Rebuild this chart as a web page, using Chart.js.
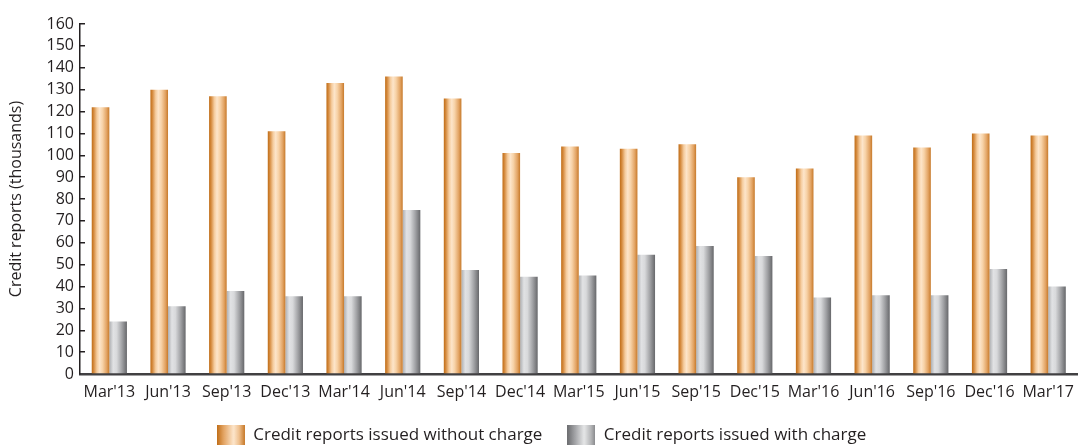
<!DOCTYPE html>
<html>
<head>
<meta charset="utf-8">
<script src="https://cdn.jsdelivr.net/npm/chart.js@4/dist/chart.umd.min.js"></script>
<style>
  html, body { margin: 0; padding: 0; background: #ffffff; }
  #wrap { width: 1083px; height: 445px; position: relative; }
</style>
</head>
<body>
<div id="wrap"><canvas id="c"></canvas></div>
<script>
const categories = ["Mar'13", "Jun'13", "Sep'13", "Dec'13", "Mar'14", "Jun'14", "Sep'14", "Dec'14", "Mar'15", "Jun'15", "Sep'15", "Dec'15", "Mar'16", "Jun'16", "Sep'16", "Dec'16", "Mar'17"];
const withoutCharge = [122, 130, 127, 111, 133, 136, 126, 101, 104, 103, 105, 90, 94, 109, 103.5, 110, 109];
const withCharge = [24, 31, 38, 35.5, 35.5, 75, 47.5, 44.5, 45, 54.5, 58.5, 54, 35, 36, 36, 48, 40];
const seriesNames = ["Credit reports issued without charge", "Credit reports issued with charge"];
const yTicks = { min: 0, max: 160, step: 10 };
const yTitle = "Credit reports (thousands)";

const FONT = "'Open Sans', 'Noto Sans', sans-serif";
const TEXT = "#231f20";
const CAT_PCT = 0.6;

const orangeStops = [[0, '#bf6c16'], [0.12, '#d68c40'], [0.3, '#f5cc9e'], [0.45, '#fde5ca'], [0.62, '#f7d2a7'], [0.85, '#e2a363'], [1, '#c77a2b']];
const grayStops = [[0, '#adafb2'], [0.22, '#e1e2e4'], [0.42, '#d8d9db'], [0.72, '#a0a1a4'], [1, '#67686b']];
const orangeLegendStops = [[0, '#bf6c16'], [0.25, '#e4a564'], [0.6, '#fde6cc'], [0.8, '#efc08e'], [1, '#c77a2b']];
const grayLegendStops = [[0, '#6c6d70'], [0.3, '#a8a9ac'], [0.6, '#e6e7e8'], [0.85, '#b3b4b6'], [1, '#86878a']];

function barFill(stops) {
  return function (ctx) {
    const chart = ctx.chart;
    const xs = chart.scales && chart.scales.x;
    if (!xs || !chart.chartArea || ctx.dataIndex === undefined) return stops[2][1];
    const center = xs.getPixelForValue(ctx.dataIndex);
    const catW = (xs.right - xs.left) / categories.length;
    const groupW = catW * CAT_PCT;
    const barW = groupW / 2;
    const left = center - groupW / 2 + ctx.datasetIndex * barW;
    const g = chart.ctx.createLinearGradient(left, 0, left + barW, 0);
    stops.forEach(s => g.addColorStop(s[0], s[1]));
    return g;
  };
}

function legendImage(stops) {
  const cv = document.createElement('canvas');
  cv.width = 28; cv.height = 21;
  const c = cv.getContext('2d');
  const g = c.createLinearGradient(0, 0, 28, 0);
  stops.forEach(s => g.addColorStop(s[0], s[1]));
  c.fillStyle = g;
  c.fillRect(0, 0, 28, 21);
  return cv;
}
const legendImgs = [legendImage(orangeLegendStops), legendImage(grayLegendStops)];

new Chart(document.getElementById('c'), {
  type: 'bar',
  data: {
    labels: categories,
    datasets: [
      { label: seriesNames[0], data: withoutCharge, backgroundColor: barFill(orangeStops), borderWidth: 0 },
      { label: seriesNames[1], data: withCharge, backgroundColor: barFill(grayStops), borderWidth: 0 }
    ]
  },
  options: {
    responsive: true,
    maintainAspectRatio: false,
    animation: false,
    events: [],
    layout: { padding: { top: 24, right: 0, left: 0, bottom: -9 } },
    datasets: { bar: { categoryPercentage: CAT_PCT, barPercentage: 1 } },
    plugins: {
      tooltip: { enabled: false },
      legend: {
        position: 'bottom',
        labels: {
          usePointStyle: true,
          pointStyleWidth: 28,
          padding: 25,
          color: TEXT,
          font: { family: FONT, size: 17 },
          generateLabels: (chart) => chart.data.datasets.map((ds, i) => ({
            text: ds.label,
            pointStyle: legendImgs[i],
            fillStyle: 'transparent',
            strokeStyle: 'transparent',
            lineWidth: 0,
            hidden: false,
            datasetIndex: i,
            fontColor: TEXT
          }))
        }
      }
    },
    scales: {
      x: {
        z: 1,
        offset: true,
        grid: { display: false, drawTicks: false },
        border: { display: true, color: '#414042', width: 2.5 },
        ticks: { color: TEXT, font: { family: FONT, size: 16 }, padding: 9, maxRotation: 0, autoSkip: false },
        afterFit: (s) => { s.height = 28; }
      },
      y: {
        min: yTicks.min,
        max: yTicks.max,
        grid: { display: true, drawOnChartArea: false, drawTicks: true, tickLength: -5, color: TEXT, lineWidth: 1.5 },
        border: { display: true, color: TEXT, width: 1.5 },
        ticks: { stepSize: yTicks.step, autoSkip: false, maxTicksLimit: 30, color: TEXT, font: { family: FONT, size: 16, lineHeight: 1 }, padding: 11 },
        title: { display: true, text: yTitle, color: TEXT, font: { family: FONT, size: 16 }, padding: { top: 7, bottom: 0 } },
        afterFit: (s) => { s.width = 80; }
      }
    }
  }
});
</script>
</body>
</html>
